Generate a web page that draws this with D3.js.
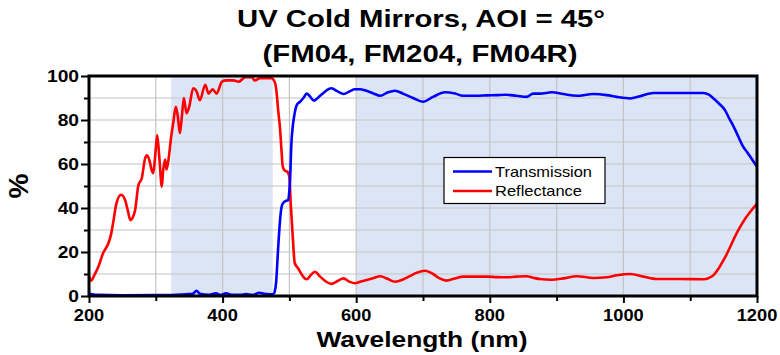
<!DOCTYPE html>
<html><head><meta charset="utf-8">
<script src="https://cdn.jsdelivr.net/npm/d3@7"></script>
<style>
html,body{margin:0;padding:0;background:#fff;}
svg{display:block;font-family:"Liberation Sans",Arial,sans-serif;}
</style></head>
<body>
<svg id="chart" width="780" height="355"></svg>
<script>
// ---- data ----
const titleLines = ["UV Cold Mirrors, AOI = 45°", "(FM04, FM204, FM04R)"];
const xLabel = "Wavelength (nm)";
const yLabel = "%";
const xTicks = [200, 400, 600, 800, 1000, 1200];
const yTicks = [0, 20, 40, 60, 80, 100];
const shadedBands = [[323, 475], [600, 1200]];
const seriesNames = ["Transmission", "Reflectance"];

const transWl = [200,205,215,250,300,330,345,355,361,366,380,390,397,405,415,427,435,445,455,462,470,476,478,480,483,486,488,490,495,498,500,501,503,505,507,511,516,521,526,530,537,544,550,556,563,572,581,590,598,606,613,625,636,647,658,670,685,700,715,733,748,760,780,796,810,823,840,855,865,875,893,910,930,955,975,990,1010,1025,1045,1085,1120,1128,1135,1143,1152,1158,1165,1172,1179,1185,1190,1195,1200];
const transVal = [1.3,0.8,0.5,0.3,0.4,0.6,0.8,1,2.4,1,0.6,1.2,0.5,1.2,0.5,0.5,0.9,0.5,1.5,1.0,0.8,0.9,2,5.8,21,34.5,40,42,43.3,43.5,48,52.7,69.4,77,81.5,86.8,88.3,90,92,91,88.8,90.5,92,93.6,94.4,93,91.8,93,94,94,93.5,92.2,91,92.5,93.3,92,90,88.3,90.5,92.6,92,91,91,91.2,91.3,91.5,91,90.5,92,92,92.6,91.8,91,91.8,91.3,90.5,89.8,90.8,92.3,92.3,92.3,91.5,89.8,87.5,84.5,81,77,72.5,68,65.5,63.3,61,58.8];

const reflWl = [200,203,208,214,221,229,233,236,241,248,254,258,262,266,269,274,279,284,287,291,294,296,298,300,302,304,306,309,311,314,316,319,323,326,330,333,336,339,342,346,350,356,361,366,374,379,385,391,399,406,416,424,434,444,448,456,466,473,478,481,483,486,488,490,493,497,500,502,505,508,513,518,523,526,532,538,546,555,563,572,581,590,598,607,616,626,636,647,658,670,680,690,703,715,725,735,748,760,780,796,810,823,840,855,865,875,893,910,930,955,975,990,1010,1030,1050,1085,1120,1128,1135,1141,1147,1153,1160,1167,1175,1182,1190,1200];
const reflVal = [8.8,7.0,9.5,13.3,19.4,24,28,33,42,46,43.6,39,34.5,36,39,50.4,53.5,62.6,64,61,57,55.8,60,67,73,68,60,49.7,57,62,57.5,62,72.4,78.5,86,81.5,74,81.5,90,83,86,94.4,93,89,96,92,94,92,97.4,98,98,97.4,99.4,99.4,98,99,99,99,97.4,92,85,76,67,59,57,56.5,54,42,27,15,12.6,10,8,7.6,9.5,11,8.8,6.5,5.5,6.8,8,6.5,5.8,6.6,7.3,8.2,9,7.8,6.5,7.5,9,10.5,11.5,10,8,7,8,8.8,8.8,8.8,8.6,8.5,8.8,9,8.3,7.7,7.4,8,9,8.2,8.5,9.4,10,8.8,7.7,7.7,7.6,8.2,9.5,11.8,14.8,18,22.4,27,31.5,35,38.3,42];

// ---- layout ----
const svg = d3.select("#chart");
const L = 89, R = 757, T = 76, B = 296;
const x = d3.scaleLinear().domain([200, 1200]).range([L, R]);
const y = d3.scaleLinear().domain([0, 100]).range([B, T]);

function stretchTo(sel, width) {
  sel.attr("textLength", width).attr("lengthAdjust", "spacingAndGlyphs");
}
function stretchBy(sel, f) {
  sel.each(function () {
    const w = this.getComputedTextLength();
    this.setAttribute("textLength", w * f);
    this.setAttribute("lengthAdjust", "spacingAndGlyphs");
  });
}

// shaded bands
svg.append("g").selectAll("rect").data(shadedBands).join("rect")
  .attr("x", d => x(d[0])).attr("y", T)
  .attr("width", d => x(d[1]) - x(d[0])).attr("height", B - T)
  .attr("fill", "#dce5f5");

// grid
const grid = svg.append("g").attr("stroke", "#c4c4c4").attr("stroke-width", 1.2);
grid.selectAll("line.h").data(d3.range(10, 100, 10)).join("line")
  .attr("x1", L).attr("x2", R).attr("y1", d => y(d)).attr("y2", d => y(d));
grid.selectAll("line.v").data(d3.range(300, 1200, 100)).join("line")
  .attr("y1", T).attr("y2", B).attr("x1", d => x(d)).attr("x2", d => x(d));

// axes
const yAxis = d3.axisLeft(y).tickValues(d3.range(0, 101, 10)).tickSize(0).tickFormat("");
const xAxis = d3.axisBottom(x).tickValues(d3.range(200, 1201, 100)).tickSize(0).tickFormat("");
const gy = svg.append("g").attr("transform", `translate(${L},0)`).call(yAxis);
const gx = svg.append("g").attr("transform", `translate(0,${B})`).call(xAxis);
gy.select(".domain").remove(); gx.select(".domain").remove();
gy.selectAll(".tick line").attr("stroke", "#000").attr("stroke-width", 2)
  .attr("x2", d => (yTicks.includes(d) ? -8 : -5));
gx.selectAll(".tick line").attr("stroke", "#000").attr("stroke-width", 2)
  .attr("y2", d => (xTicks.includes(d) ? 7 : 5));

// tick labels
svg.append("g").selectAll("text").data(yTicks).join("text")
  .attr("x", 79).attr("y", d => y(d)).attr("dy", "0.36em")
  .attr("text-anchor", "end").attr("font-weight", "bold").attr("font-size", 16)
  .text(d => d).call(stretchBy, 1.2);
svg.append("g").selectAll("text").data(xTicks).join("text")
  .attr("x", d => x(d)).attr("y", 321)
  .attr("text-anchor", "middle").attr("font-weight", "bold").attr("font-size", 16)
  .text(d => d).call(stretchBy, 1.14);

// curves
const line = d3.line().x(d => x(d[0])).y(d => y(d[1])).curve(d3.curveMonotoneX);
const trans = d3.zip(transWl, transVal);
const refl = d3.zip(reflWl, reflVal);
svg.append("path").datum(refl).attr("d", line)
  .attr("fill", "none").attr("stroke", "#ff0000").attr("stroke-width", 2.6).attr("stroke-linejoin", "round");
svg.append("path").datum(trans).attr("d", line)
  .attr("fill", "none").attr("stroke", "#0000ff").attr("stroke-width", 2.6).attr("stroke-linejoin", "round");

// frame
svg.append("rect").attr("x", L).attr("y", T).attr("width", R - L).attr("height", B - T)
  .attr("fill", "none").attr("stroke", "#000").attr("stroke-width", 3);

// titles
svg.append("text").attr("x", 421).attr("y", 27).attr("text-anchor", "middle")
  .attr("font-weight", "bold").attr("font-size", 24).text(titleLines[0]).call(stretchTo, 368);
svg.append("text").attr("x", 420).attr("y", 62).attr("text-anchor", "middle")
  .attr("font-weight", "bold").attr("font-size", 24).text(titleLines[1]).call(stretchTo, 315);
svg.append("text").attr("x", 422).attr("y", 347).attr("text-anchor", "middle")
  .attr("font-weight", "bold").attr("font-size", 22).text(xLabel).call(stretchTo, 211);
svg.append("text").attr("transform", "translate(28,186) rotate(-90)").attr("text-anchor", "middle")
  .attr("font-weight", "bold").attr("font-size", 28).text(yLabel);

// legend
const lg = svg.append("g");
lg.append("rect").attr("x", 444).attr("y", 157.5).attr("width", 161).attr("height", 46)
  .attr("fill", "#fff").attr("stroke", "#000").attr("stroke-width", 1.2);
const colors = ["#0000ff", "#ff0000"];
const lys = [171.5, 191];
const lwidths = [97, 87];
seriesNames.forEach((name, i) => {
  lg.append("line").attr("x1", 453).attr("x2", 492).attr("y1", lys[i]).attr("y2", lys[i])
    .attr("stroke", colors[i]).attr("stroke-width", 2.6);
  lg.append("text").attr("x", 495).attr("y", lys[i]).attr("dy", "0.36em")
    .attr("font-size", 15).text(name).call(stretchTo, lwidths[i]);
});
</script>
</body></html>
